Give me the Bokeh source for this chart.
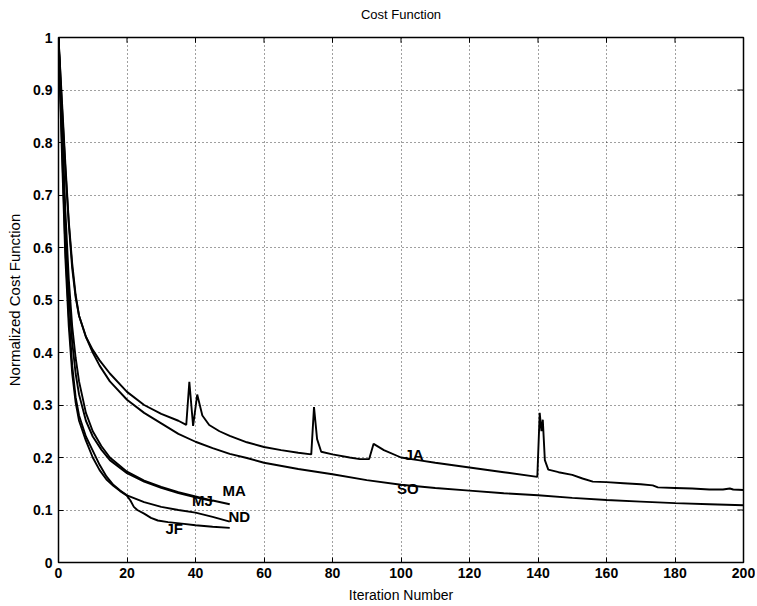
from bokeh.plotting import figure
from bokeh.models import FixedTicker, Range1d, ColumnDataSource
from bokeh.core.properties import value
from bokeh.embed import file_html
from bokeh.resources import INLINE

# ---- data ----
ja_x = [0, 1, 2, 3, 4, 5, 6, 8, 10, 12, 15, 20, 25, 30, 35, 37.3, 38.2, 39.3, 40.5, 42, 44, 47, 50,
        55, 60, 65, 70, 73.8, 74.6, 75.5, 76.7, 80, 85, 88, 90.7, 92, 95, 100, 105, 110, 120, 130,
        139.8, 140.5, 141.0, 141.4, 142.0, 143, 146, 150, 153, 156, 160, 165, 170, 173.5, 175,
        180, 185, 190, 194, 196, 197, 200]
ja_y = [1.0, 0.88, 0.76, 0.65, 0.57, 0.51, 0.47, 0.43, 0.405, 0.385, 0.36, 0.325, 0.3, 0.283, 0.27,
        0.262, 0.344, 0.26, 0.32, 0.28, 0.262, 0.25, 0.241, 0.229, 0.22, 0.214, 0.209, 0.206, 0.296,
        0.235, 0.211, 0.206, 0.2, 0.197, 0.197, 0.226, 0.214, 0.2, 0.195, 0.19, 0.181, 0.172,
        0.163, 0.285, 0.25, 0.272, 0.195, 0.177, 0.172, 0.167, 0.16, 0.154, 0.153, 0.151, 0.149,
        0.147, 0.143, 0.142, 0.141, 0.139, 0.139, 0.141, 0.139, 0.138]

so_x = [0, 1, 2, 3, 4, 5, 6, 8, 10, 12, 15, 20, 25, 30, 35, 40, 45, 50, 55, 60, 70, 80, 90, 100,
        110, 120, 130, 140, 150, 160, 170, 180, 190, 200]
so_y = [1.0, 0.87, 0.75, 0.645, 0.56, 0.505, 0.47, 0.43, 0.4, 0.375, 0.345, 0.31, 0.285, 0.265,
        0.245, 0.23, 0.218, 0.207, 0.199, 0.19, 0.178, 0.168, 0.157, 0.148, 0.142, 0.137, 0.132,
        0.128, 0.123, 0.119, 0.116, 0.113, 0.111, 0.109]

ma_x = [0, 1, 2, 3, 4, 5, 6, 8, 10, 12.5, 15, 20, 25, 30, 35, 40, 45, 50]
ma_y = [1.0, 0.84, 0.67, 0.54, 0.45, 0.39, 0.345, 0.285, 0.25, 0.222, 0.2, 0.173, 0.156, 0.144,
        0.134, 0.126, 0.118, 0.111]

mj_x = [0, 1, 2, 3, 4, 5, 6, 8, 10, 12.5, 15, 20, 25, 30, 35, 40, 45]
mj_y = [1.0, 0.82, 0.64, 0.51, 0.42, 0.36, 0.32, 0.27, 0.24, 0.215, 0.195, 0.17, 0.154, 0.142,
        0.132, 0.124, 0.117]

nd_x = [0, 1, 2, 3, 4, 5, 6, 8, 10, 12, 14, 16, 18, 20, 25, 30, 35, 40, 45, 50]
nd_y = [1.0, 0.8, 0.6, 0.47, 0.375, 0.315, 0.28, 0.24, 0.213, 0.186, 0.164, 0.148, 0.137, 0.128,
        0.115, 0.106, 0.1, 0.095, 0.087, 0.078]

jf_x = [0, 1, 2, 3, 4, 5, 6, 8, 10, 12, 14, 16, 18, 20, 21, 22, 23, 25, 27, 29, 32, 36, 40, 45, 50]
jf_y = [1.0, 0.78, 0.58, 0.45, 0.36, 0.305, 0.27, 0.232, 0.2, 0.176, 0.158, 0.146, 0.136, 0.127,
        0.118, 0.106, 0.1, 0.093, 0.085, 0.08, 0.077, 0.074, 0.071, 0.068, 0.066]

label_names = ["JA", "SO", "MA", "MJ", "ND", "JF"]
label_x = [103.8, 102.0, 51.3, 42.0, 52.8, 33.8]
label_y = [0.205, 0.141, 0.138, 0.119, 0.088, 0.065]

x_ticks = [0, 20, 40, 60, 80, 100, 120, 140, 160, 180, 200]
x_tick_labels = ["0", "20", "40", "60", "80", "100", "120", "140", "160", "180", "200"]
y_ticks = [0, 0.1, 0.2, 0.3, 0.4, 0.5, 0.6, 0.7, 0.8, 0.9, 1.0]
y_tick_labels = ["0", "0.1", "0.2", "0.3", "0.4", "0.5", "0.6", "0.7", "0.8", "0.9", "1"]

FONT = "Liberation Sans"
X0, X1, Y0, Y1 = 0, 200, 0, 1

p = figure(width=755, height=605, x_range=Range1d(X0, X1), y_range=Range1d(Y0, Y1),
           output_backend="svg", toolbar_location=None,
           min_border_left=58, min_border_right=12, min_border_top=37, min_border_bottom=43,
           title="Cost Function")
p.title.align = "center"
p.title.text_font = FONT
p.title.text_font_size = "13px"
p.title.text_font_style = "normal"
p.title.text_color = "black"
p.title.standoff = 4
try:
    p.title.padding = dict(left=0, right=0, top=0, bottom=14)
except Exception:
    p.title.standoff = 18
    p.title.vertical_align = "top"

p.outline_line_color = "black"
p.outline_line_width = 1.5
p.background_fill_color = "white"
p.border_fill_color = "white"

for ax, ticks, labels in ((p.xaxis[0], x_ticks, x_tick_labels), (p.yaxis[0], y_ticks, y_tick_labels)):
    ax.ticker = FixedTicker(ticks=ticks)
    ax.major_label_overrides = {t: l for t, l in zip(ticks, labels)}
    ax.major_tick_in = 5
    ax.major_tick_out = 0
    ax.minor_tick_line_color = None
    ax.axis_line_color = "black"
    ax.major_tick_line_color = "black"
    ax.major_label_text_font = FONT
    ax.major_label_text_font_size = "14px"
    ax.major_label_text_font_style = "bold"
    ax.major_label_text_color = "black"
    ax.axis_label_text_font = FONT
    ax.axis_label_text_font_style = "normal"
    ax.axis_label_text_color = "black"

p.xaxis.axis_label = "Iteration Number"
p.xaxis.axis_label_text_font_size = "14px"
p.xaxis.major_label_standoff = 5
p.xaxis.axis_label_standoff = 6
p.yaxis.axis_label = "Normalized Cost Function"
p.yaxis.axis_label_text_font_size = "15px"
p.yaxis.major_label_standoff = 6
p.yaxis.axis_label_standoff = 7

p.xgrid.ticker = FixedTicker(ticks=x_ticks)
p.ygrid.ticker = FixedTicker(ticks=y_ticks)
for g in (p.xgrid[0], p.ygrid[0]):
    g.grid_line_color = "black"
    g.grid_line_dash = "1 3"
    g.grid_line_width = 1
    g.grid_line_alpha = 0.75

# mirrored inward tick marks on the top and right edges (box style)
tick_len_y = 0.01 * (Y1 - Y0)
tick_len_x = 0.009 * (X1 - X0)
p.segment(x0=x_ticks, y0=[Y1] * len(x_ticks), x1=x_ticks, y1=[Y1 - tick_len_y] * len(x_ticks),
          line_color="black", line_width=1)
p.segment(x0=[X1] * len(y_ticks), y0=y_ticks, x1=[X1 - tick_len_x] * len(y_ticks), y1=y_ticks,
          line_color="black", line_width=1)

for xs, ys in ((ja_x, ja_y), (so_x, so_y), (ma_x, ma_y), (mj_x, mj_y), (nd_x, nd_y), (jf_x, jf_y)):
    p.line(xs, ys, line_color="black", line_width=1.9)

src = ColumnDataSource(dict(x=label_x, y=label_y, t=label_names))
p.text(x="x", y="y", text="t", source=src, text_font=value(FONT), text_font_size="15px",
       text_font_style="bold", text_align="center", text_baseline="middle", text_color="black")

open("out.html", "w").write(file_html(p, INLINE))
